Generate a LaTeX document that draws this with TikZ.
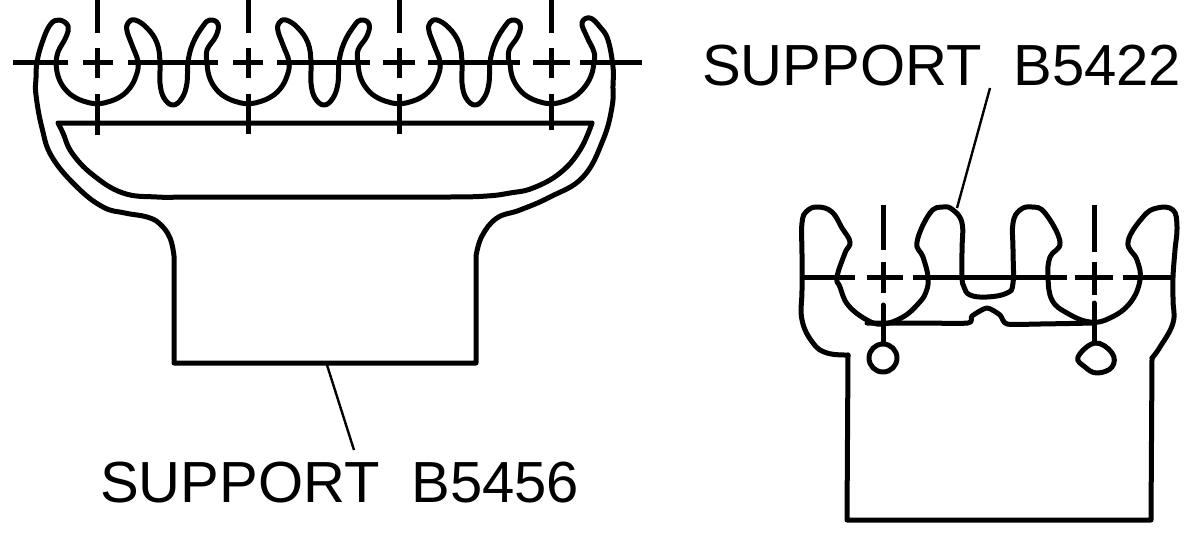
\documentclass[tikz,border=0pt]{standalone}
\usepackage{fontspec}
\setmainfont{Liberation Sans}
\usetikzlibrary{positioning}
\tikzset{
    outline/.style = {draw=black, line width=5pt, line join=round, line cap=round},
    axisline/.style = {draw=black, line width=5pt},
    leader/.style = {draw=black, line width=2.4pt},
    partlabel/.style = {inner sep=0pt, anchor=base west, font=\fontsize{58}{60}\selectfont},
    curve/.style = {smooth, tension=0.7},
}
\begin{document}
\begin{tikzpicture}[x=1pt, y=-1pt]
  \useasboundingbox (0,0) rectangle (1199,536);

  % left support
  \draw[outline] plot[curve] coordinates {(56,64) (58,52) (66,37) (68,26) (59,20) (50,25) (42,43) (37,62) (36,78) (36,95) (42,128) (52,157) (77,187) (103,207) (125,213) (147,217) (160,224) (170,238) (174,256)}
    -- (174,363) -- (476,363) -- (476,256)
    plot[curve] coordinates {(476,256) (482,236) (497,218) (520,210) (550,197) (583,177) (603,140) (612,107) (613,85) (613,67) (608,40) (600,27) (590,18) (582,23) (587,37) (594,52) (594,62) (591,76) (583,89) (572,98) (558,103) (551,104) (544,103) (530,98) (519,89) (512,76) (510,62)};
  \foreach \cx in {97,248,399}
    \draw[outline, xshift=\cx pt] plot[curve] coordinates {(-41,62) (-39,76) (-32,89) (-21,98) (-7,103) (0,104) (7,103) (21,98) (32,89) (39,76) (41,62) (35,45) (30,31) (31,23) (38,20) (50,28) (60,43) (63,62) (63,83) (67,98) (76,105) (85,98) (90,83) (91,62) (96,43) (106,26) (113,20) (121,24) (119,36) (110,50) (110,62)};
  \draw[outline] (58,123) -- (592,123)
    plot[curve] coordinates {(592,123) (580,150) (560,173) (533,188) (510,193) (487,196) (450,197) (350,197) (250,197) (190,197) (157,197) (123,193) (93,175) (72,153) (63,133) (58,123)};

  % centre lines, left
  \foreach \cx/\cy in {97/135,248/134,399/134,551/130} {
    \draw[axisline] (\cx,0) -- (\cx,33);
    \draw[axisline] (\cx,48) -- (\cx,78);
    \draw[axisline] (\cx,94) -- (\cx,\cy);
  }
  \foreach \xa/\xb in {13/68,83/113,128/218,233/263,277/370,383/415,428/520,533/570,580/642}
    \draw[axisline] (\xa,62) -- (\xb,62);

  % right support
  \draw[outline] (848,355) -- (847,520) -- (1151,520) -- (1152,358);
  \draw[outline] plot[curve] coordinates {(848,355) (827,353) (813,343) (802,320) (802,290) (802,255) (802,223) (807,211) (818,207) (832,212) (842,228) (850,242) (845,253) (837,277) (840,287) (848,305) (867,320) (883,324) (903,317) (918,304) (926,292) (928,277) (923,257) (917,242) (930,213) (943,207) (953,210) (962,223) (962,250) (962,277) (964,287) (970,295) (987,297) (1007,293) (1013,283) (1013,250) (1013,223) (1020,210) (1032,207) (1045,213) (1060,242) (1050,257) (1048,277) (1052,300) (1067,313) (1090,322) (1110,318) (1130,303) (1140,280) (1137,260) (1128,242) (1143,217) (1157,208) (1173,210) (1177,227) (1175,250) (1173,277) (1173,300) (1173,323) (1160,347) (1152,358)};
  \draw[outline] plot[smooth, tension=0.4] coordinates {(867,323) (920,323) (968,323) (972,316) (987,308) (1000,315) (1007,324) (1040,324) (1095,323)};
  \draw[outline] (883,358) circle (14);
  \draw[outline] plot[smooth cycle, tension=0.7] coordinates {(1078,357) (1095,343) (1112,353) (1112,367) (1097,373) (1085,367)};
  \draw[outline] (883,305) -- (883,343);
  \draw[outline] (1094,303) -- (1094,343);

  % centre lines, right
  \foreach \cx/\ya/\yb in {883/205/250,883/262/293,1094/205/252,1094/262/295}
    \draw[axisline] (\cx,\ya) -- (\cx,\yb);
  \foreach \xa/\xb in {802/855,867/903,913/1067,1075/1113,1123/1173}
    \draw[axisline] (\xa,277) -- (\xb,277);

  % labels
  \node[partlabel] (labela) at (100,502) {SUPPORT\hspace{0.55em}B5456};
  \node[partlabel] (labelb) at (702,85) {SUPPORT\hspace{0.55em}B5422};
  \coordinate (basea) at (327,365);
  \coordinate (enda) at (354,450);
  \coordinate (fingerb) at (957,208);
  \coordinate (endb) at (990,88);
  \draw[leader] (basea) -- (enda);
  \draw[leader] (fingerb) -- (endb);
\end{tikzpicture}
\end{document}
